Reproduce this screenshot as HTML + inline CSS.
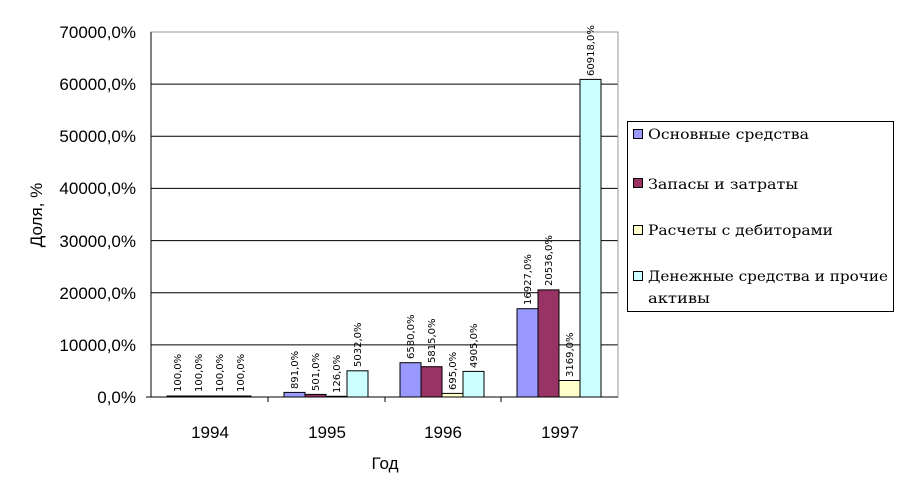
<!DOCTYPE html>
<html><head><meta charset="utf-8"><style>body{margin:0;background:#fff}svg{display:block}</style></head><body>
<svg width="904" height="491" xmlns="http://www.w3.org/2000/svg" font-family="Liberation Sans, sans-serif">
<g id="grid" stroke="#000" stroke-width="1">
<line x1="151" y1="344.9" x2="618" y2="344.9"/>
<line x1="151" y1="292.7" x2="618" y2="292.7"/>
<line x1="151" y1="240.6" x2="618" y2="240.6"/>
<line x1="151" y1="188.4" x2="618" y2="188.4"/>
<line x1="151" y1="136.3" x2="618" y2="136.3"/>
<line x1="151" y1="84.1" x2="618" y2="84.1"/>
</g>
<rect x="151" y="32" width="467" height="365" fill="none" stroke="#999"/>
<line x1="151" y1="32" x2="151" y2="397" stroke="#000"/>
<line x1="146" y1="397" x2="618" y2="397" stroke="#000"/>
<g stroke="#000"><line x1="268" y1="397" x2="268" y2="402"/><line x1="385" y1="397" x2="385" y2="402"/><line x1="501" y1="397" x2="501" y2="402"/></g>
<g font-size="17" text-anchor="end">
<text x="136" y="403">0,0%</text><text x="136" y="351">10000,0%</text><text x="136" y="299">20000,0%</text><text x="136" y="247">30000,0%</text><text x="136" y="194">40000,0%</text><text x="136" y="142">50000,0%</text><text x="136" y="90">60000,0%</text><text x="136" y="38">70000,0%</text>
</g>
<g font-size="17" text-anchor="middle">
<text x="210" y="438">1994</text><text x="327" y="438">1995</text><text x="443" y="438">1996</text><text x="560" y="438">1997</text>
<text x="385" y="469">Год</text>
<text transform="translate(42,215) rotate(-90)">Доля, %</text>
</g>
<g stroke="#000" stroke-width="1">
<rect x="167" y="396" width="21" height="1" fill="#9999ff"/><rect x="188" y="396" width="21" height="1" fill="#993366"/><rect x="209" y="396" width="21" height="1" fill="#ffffcc"/><rect x="230" y="396" width="21" height="1" fill="#ccffff"/>
<rect x="284" y="392.4" width="21" height="4.6" fill="#9999ff"/><rect x="305" y="394.4" width="21" height="2.6" fill="#993366"/><rect x="326" y="396.3" width="21" height="0.7" fill="#ffffcc"/><rect x="347" y="370.8" width="21" height="26.2" fill="#ccffff"/>
<rect x="400" y="362.7" width="21" height="34.3" fill="#9999ff"/><rect x="421" y="366.7" width="21" height="30.3" fill="#993366"/><rect x="442" y="393.4" width="21" height="3.6" fill="#ffffcc"/><rect x="463" y="371.4" width="21" height="25.6" fill="#ccffff"/>
<rect x="517" y="308.7" width="21" height="88.3" fill="#9999ff"/><rect x="538" y="289.9" width="21" height="107.1" fill="#993366"/><rect x="559" y="380.5" width="21" height="16.5" fill="#ffffcc"/><rect x="580" y="79.4" width="21" height="317.6" fill="#ccffff"/>
</g>
<g font-size="10" font-family="DejaVu Sans, sans-serif">
<text transform="translate(181,392) rotate(-90)">100,0%</text>
<text transform="translate(202,392) rotate(-90)">100,0%</text>
<text transform="translate(223,392) rotate(-90)">100,0%</text>
<text transform="translate(244,392) rotate(-90)">100,0%</text>
<text transform="translate(298,389) rotate(-90)">891,0%</text>
<text transform="translate(319,391) rotate(-90)">501,0%</text>
<text transform="translate(340,393) rotate(-90)">126,0%</text>
<text transform="translate(361,367) rotate(-90)">5032,0%</text>
<text transform="translate(414,359) rotate(-90)">6580,0%</text>
<text transform="translate(435,363) rotate(-90)">5815,0%</text>
<text transform="translate(456,390) rotate(-90)">695,0%</text>
<text transform="translate(477,368) rotate(-90)">4905,0%</text>
<text transform="translate(531,305) rotate(-90)">16927,0%</text>
<text transform="translate(552,286) rotate(-90)">20536,0%</text>
<text transform="translate(573,377) rotate(-90)">3169,0%</text>
<text transform="translate(594,76) rotate(-90)">60918,0%</text>
</g>
<rect x="627.5" y="121.5" width="266" height="190" fill="#fff" stroke="#000"/>
<g stroke="#000"><rect x="633.5" y="129.5" width="9" height="9" fill="#9999ff"/><rect x="633.5" y="178.5" width="9" height="9" fill="#993366"/><rect x="633.5" y="225.5" width="9" height="9" fill="#ffffcc"/><rect x="633.5" y="271.5" width="9" height="9" fill="#ccffff"/></g>
<g font-family="DejaVu Serif, serif" font-size="14">
<text x="648" y="139" textLength="161" lengthAdjust="spacingAndGlyphs">Основные средства</text>
<text x="648" y="189" textLength="150" lengthAdjust="spacingAndGlyphs">Запасы и затраты</text>
<text x="648" y="235" textLength="185" lengthAdjust="spacingAndGlyphs">Расчеты с дебиторами</text>
<text x="648" y="281" textLength="240" lengthAdjust="spacingAndGlyphs">Денежные средства и прочие</text>
<text x="648" y="303" textLength="62" lengthAdjust="spacingAndGlyphs">активы</text>
</g>
</svg>
</body></html>
